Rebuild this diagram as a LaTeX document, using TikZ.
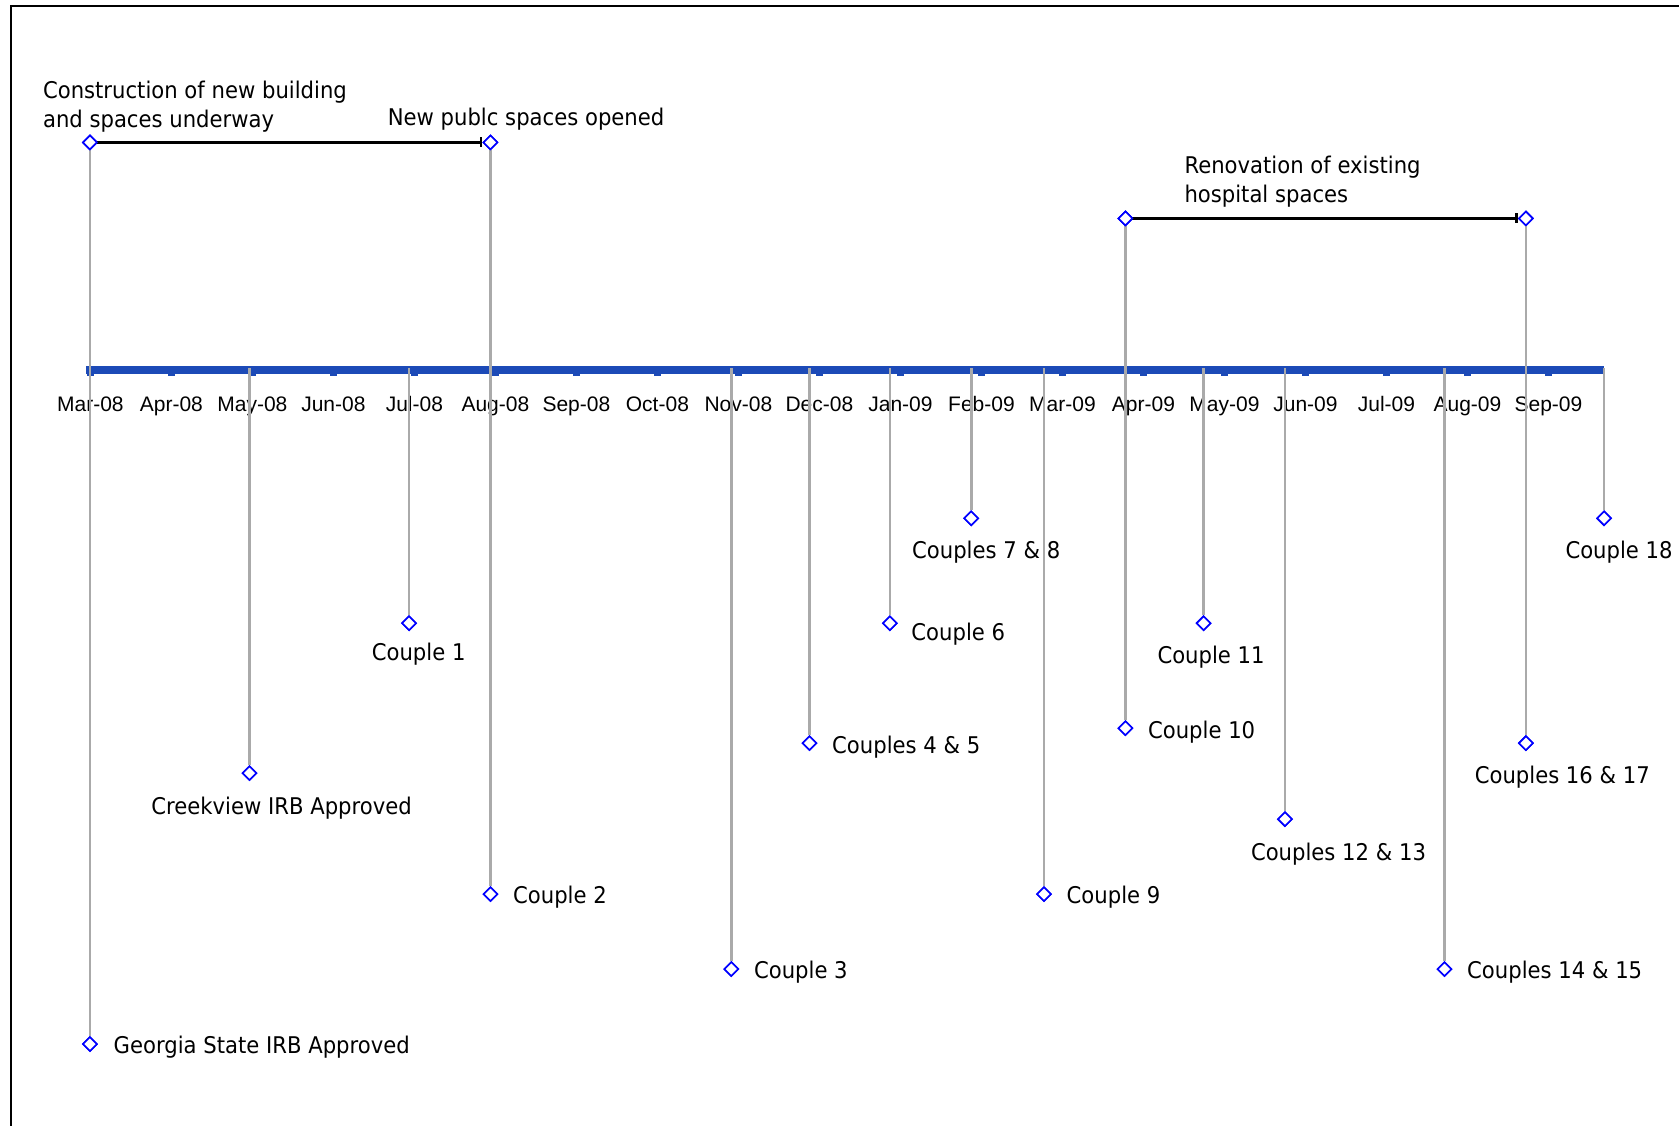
\documentclass[tikz,border=0pt]{standalone}
\usepackage{fontspec}
\setmainfont{DejaVu Sans}[FakeStretch=0.92]
\newfontfamily\arialf{Liberation Sans}
\usetikzlibrary{arrows.meta,shapes.geometric}
\definecolor{axisblue}{RGB}{28,74,183}
\definecolor{stemgray}{RGB}{170,170,170}
\begin{document}
\begin{tikzpicture}[x=1.0708pt,y=-1.0708pt,
  dia/.style={shape=diamond, draw=blue, fill=white, line width=1.6pt, minimum width=14.5pt, minimum height=14.5pt, inner sep=0pt},
  stem/.style={draw=stemgray, line width=2.6pt},
  lbl/.style={font=\fontsize{23}{29}\selectfont, inner sep=0pt, text=black},
  month/.style={font=\arialf\fontsize{21}{24}\selectfont, inner sep=0pt, anchor=base},
  spanline/.style={line width=2.4pt, -{Bar[width=10pt,line width=2.4pt]}},
  tickmark/.style={fill=axisblue, draw=none}
]
\useasboundingbox (0,0) rectangle (1568,1051);
% frame
\draw[line width=2pt] (10,1060) -- (10,6) -- (1580,6);

% axis
\fill[axisblue] (80,341.8) rectangle (1498,349.2);
\foreach \i/\m in {0/Mar-08,1/Apr-08,2/May-08,3/Jun-08,4/Jul-08,5/Aug-08,6/Sep-08,7/Oct-08,8/Nov-08,9/Dec-08,10/Jan-09,11/Feb-09,12/Mar-09,13/Apr-09,14/May-09,15/Jun-09,16/Jul-09,17/Aug-09,18/Sep-09}{
  \pgfmathsetmacro{\tx}{84.4+75.65*\i}
  \fill[tickmark] (\tx-3.2,348) rectangle (\tx+3.2,351.5);
  \node[month] (m\i) at (\tx,384.5) {\m};
}

% event diamonds
\node[dia] (con) at (84,133) {};
\node[dia] (gsa) at (84,975) {};
\node[dia] (crk) at (233,722) {};
\node[dia] (c1) at (382,582) {};
\node[dia] (npo) at (458,133) {};
\node[dia] (c2) at (458,835) {};
\node[dia] (c3) at (683,905) {};
\node[dia] (c45) at (756,694) {};
\node[dia] (c6) at (831,582) {};
\node[dia] (c78) at (907,484) {};
\node[dia] (c9) at (975,835) {};
\node[dia] (ren) at (1051,204) {};
\node[dia] (c10) at (1051,680) {};
\node[dia] (c11) at (1124,582) {};
\node[dia] (c1213) at (1200,765) {};
\node[dia] (c1415) at (1349,905) {};
\node[dia] (ree) at (1425,204) {};
\node[dia] (c1617) at (1425,694) {};
\node[dia] (c18) at (1498,484) {};

% axis attachment points
\foreach \n/\x in {crk/233,c1/382,c3/683,c45/756,c6/831,c78/907,c9/975,c11/1124,c1213/1200,c1415/1349,c18/1498}{
  \coordinate (a\n) at (\x,344);
}

% stems
\draw[stem] (con.south) -- (gsa.north);
\draw[stem] (npo.south) -- (c2.north);
\draw[stem] (ren.south) -- (c10.north);
\draw[stem] (ree.south) -- (c1617.north);
\foreach \n in {crk,c1,c3,c45,c6,c78,c9,c11,c1213,c1415,c18}{
  \draw[stem] (a\n) -- (\n.north);
}

% redraw diamonds on top of stems
\foreach \n in {con,gsa,crk,c1,npo,c2,c3,c45,c6,c78,c9,ren,c10,c11,c1213,c1415,ree,c1617,c18}{
  \node[dia] at (\n) {};
}

% spans
\draw[spanline] (con.center) -- (npo.west);
\node[dia] at (con) {};
\draw[spanline] (ren.center) -- (ree.west);
\node[dia] at (ren) {};

% labels
\node[lbl, align=left, anchor=west] (lcon) at (40,99.5) {Construction of new building\\and spaces underway};
\node[lbl, anchor=base west] (lnpo) at (362,117) {New publc spaces opened};
\node[lbl, align=left, anchor=west] (lren) at (1106,169.5) {Renovation of existing\\hospital spaces};
\node[lbl, anchor=base west] (lgsa) at (106,984) {Georgia State IRB Approved};
\node[lbl, anchor=base] (lcrk) at (263,761) {Creekview IRB Approved};
\node[lbl, anchor=base] (lc1) at (391,617) {Couple 1};
\node[lbl, anchor=base west] (lc2) at (479,844) {Couple 2};
\node[lbl, anchor=base west] (lc3) at (704,914) {Couple 3};
\node[lbl, anchor=base west] (lc45) at (777,704) {Couples 4 \& 5};
\node[lbl, anchor=base west] (lc6) at (851,598) {Couple 6};
\node[lbl, anchor=base] (lc78) at (921,522) {Couples 7 \& 8};
\node[lbl, anchor=base west] (lc9) at (996,844) {Couple 9};
\node[lbl, anchor=base west] (lc10) at (1072,690) {Couple 10};
\node[lbl, anchor=base] (lc11) at (1131,620) {Couple 11};
\node[lbl, anchor=base] (lc1213) at (1250,804) {Couples 12 \& 13};
\node[lbl, anchor=base west] (lc1415) at (1370,914) {Couples 14 \& 15};
\node[lbl, anchor=base] (lc1617) at (1459,732) {Couples 16 \& 17};
\node[lbl, anchor=base] (lc18) at (1512,522) {Couple 18};
\end{tikzpicture}
\end{document}
